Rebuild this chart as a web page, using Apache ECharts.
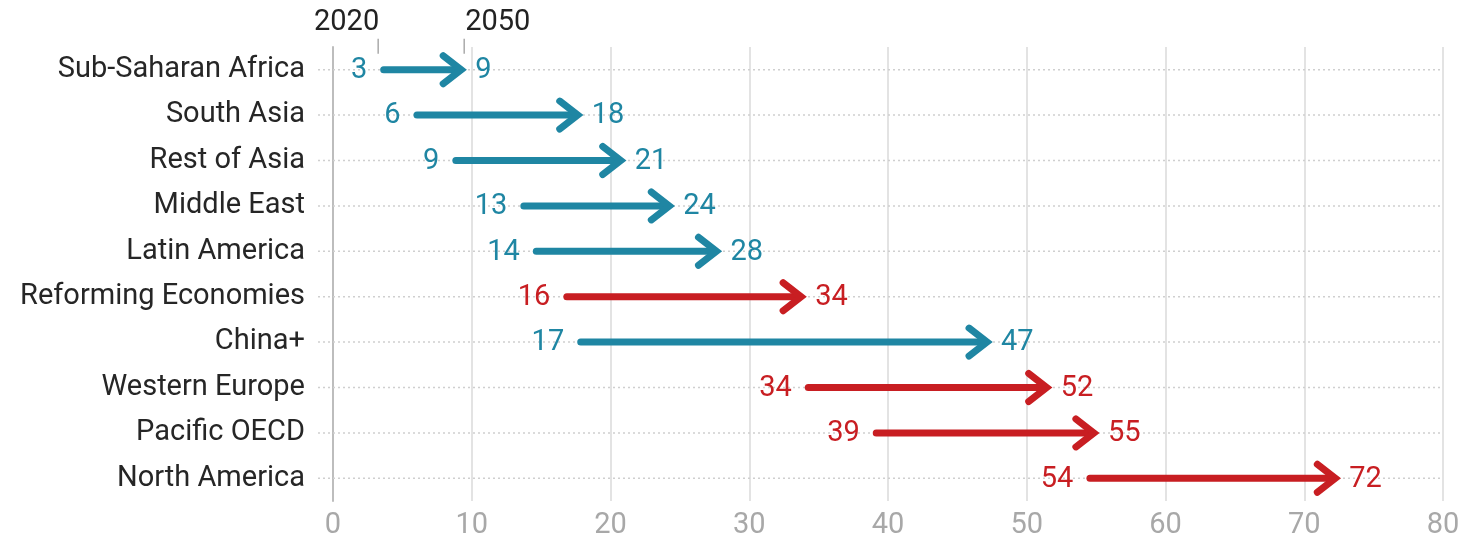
<!DOCTYPE html>
<html>
<head>
<meta charset="utf-8">
<script src="https://cdn.jsdelivr.net/npm/echarts@6/dist/echarts.min.js"></script>
<style>
  html, body { margin: 0; padding: 0; background: #fff; }
  #chart { width: 1465px; height: 544px; }
</style>
</head>
<body>
<div id="chart"></div>
<script>
// ---- data ----
const categories = ['Sub-Saharan Africa', 'South Asia', 'Rest of Asia', 'Middle East', 'Latin America',
  'Reforming Economies', 'China+', 'Western Europe', 'Pacific OECD', 'North America'];
const value2020 = [3.4, 5.8, 8.6, 13.5, 14.4, 16.6, 17.6, 34.0, 38.9, 54.3];
const value2050 = [9.6, 18.0, 21.1, 24.6, 28.0, 34.1, 47.5, 51.8, 55.2, 72.6];
const label2020 = ['3', '6', '9', '13', '14', '16', '17', '34', '39', '54'];
const label2050 = ['9', '18', '21', '24', '28', '34', '47', '52', '55', '72'];
const isOECD = [false, false, false, false, false, true, false, true, true, true];
const xTicks = [0, 10, 20, 30, 40, 50, 60, 70, 80];
const yearLabels = ['2020', '2050'];

const BLUE = '#1f86a3';
const RED = '#c81e22';
const FONT = 'Roboto';
const FS = 29;

const seriesData = categories.map((c, i) => [i, value2020[i], value2050[i]]);

function renderItem(params, api) {
  const i = api.value(0);
  const p0 = api.coord([0, i]);
  const y = p0[1];
  const xZero = p0[0];
  const xMax = api.coord([80, i])[0];
  const xs = api.coord([api.value(1), i])[0];
  const xe = api.coord([api.value(2), i])[0];
  const color = isOECD[i] ? RED : BLUE;
  const tipX = xe - 5;
  const children = [
    { type: 'line', silent: true, z2: 0,
      shape: { x1: xZero - 15, y1: y, x2: xMax, y2: y },
      style: { stroke: '#cfcfcf', lineWidth: 1.5, lineDash: [2, 3] } },
    { type: 'line', z2: 5,
      shape: { x1: xs + 3.5, y1: y, x2: tipX - 2, y2: y },
      style: { stroke: color, lineWidth: 7, lineCap: 'round' } },
    { type: 'polyline', z2: 5,
      shape: { points: [[tipX - 18, y - 14], [tipX, y], [tipX - 18, y + 14]] },
      style: { stroke: color, lineWidth: 7, lineCap: 'round', lineJoin: 'miter', fill: null } },
    { type: 'text', z2: 6,
      style: { x: xs - 13, y: y + 1, text: label2020[i], align: 'right', verticalAlign: 'middle',
        fill: color, font: FS + 'px ' + FONT } },
    { type: 'text', z2: 6,
      style: { x: xe + 9, y: y + 1, text: label2050[i], align: 'left', verticalAlign: 'middle',
        fill: color, font: FS + 'px ' + FONT } }
  ];
  if (i === 0) {
    children.push(
      { type: 'line', shape: { x1: xs - 2, y1: y - 31, x2: xs - 2, y2: y - 16 },
        style: { stroke: '#aaaaaa', lineWidth: 1.5 } },
      { type: 'line', shape: { x1: xe - 2, y1: y - 31, x2: xe - 2, y2: y - 16 },
        style: { stroke: '#aaaaaa', lineWidth: 1.5 } },
      { type: 'text', style: { x: xs - 1, y: y - 47, text: yearLabels[0], align: 'right', verticalAlign: 'middle',
        fill: '#222', font: FS + 'px ' + FONT } },
      { type: 'text', style: { x: xe - 1, y: y - 47, text: yearLabels[1], align: 'left', verticalAlign: 'middle',
        fill: '#222', font: FS + 'px ' + FONT } }
    );
  }
  return { type: 'group', children };
}

const chart = echarts.init(document.getElementById('chart'));
chart.setOption({
  backgroundColor: '#ffffff',
  animation: false,
  grid: { left: 333, right: 22, top: 47, bottom: 43, containLabel: false },
  xAxis: {
    type: 'value', min: 0, max: 80, interval: 10,
    axisLine: { show: false }, axisTick: { show: false },
    splitLine: { show: true, lineStyle: { color: '#e3e3e3', width: 2 } },
    axisLabel: { color: '#a8a8a8', fontSize: FS, fontFamily: FONT, margin: 10,
      formatter: v => xTicks.includes(v) ? String(v) : '' }
  },
  yAxis: {
    type: 'category', data: categories, inverse: true,
    axisLine: { show: true, lineStyle: { color: '#bdbdbd', width: 2 } },
    axisTick: { show: false },
    splitLine: { show: false },
    axisLabel: { color: '#262626', fontSize: FS, fontFamily: FONT, margin: 28 }
  },
  series: [{
    type: 'custom',
    clip: false,
    renderItem: renderItem,
    encode: { x: [1, 2], y: 0 },
    data: seriesData
  }]
});
</script>
</body>
</html>
